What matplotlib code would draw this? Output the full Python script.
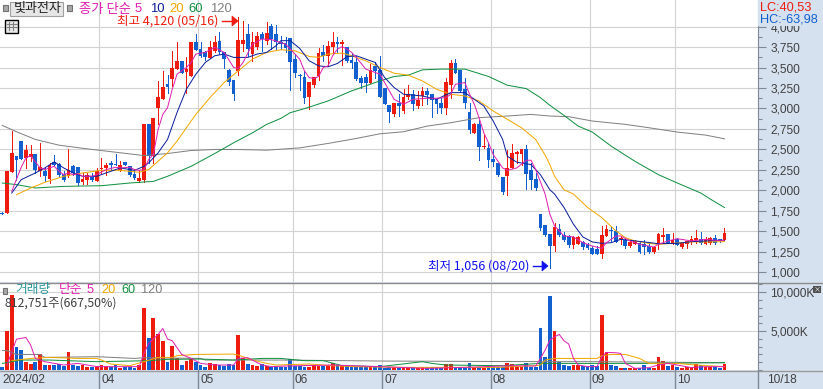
import matplotlib
matplotlib.use('Agg')
import matplotlib.pyplot as plt
from matplotlib.patches import Rectangle, Polygon
from matplotlib.ticker import MultipleLocator, FuncFormatter

plt.rcParams['font.family'] = ['Noto Sans CJK KR', 'DejaVu Sans']

# daily candles, 154 sessions
opens = [1725,1721,2221,2417,2609,2397,2409,2450,2241,2241,
         2143,2344,2327,2204,2172,2303,2286,2098,2131,2180,
         2119,2262,2274,2335,2327,2245,2348,2294,2200,2110,
         2131,2806,2417,3010,3112,3297,3358,3481,3583,3440,
         3399,3808,3726,3685,3616,3697,3828,3685,3472,3346,
         3460,3787,3910,3665,3746,3910,3828,4012,3910,3816,
         3795,3861,3603,3407,3387,3141,3284,3391,3685,3644,
         3746,3816,3787,3746,3591,3562,3370,3387,3317,3521,
         3468,3256,3039,2928,3072,2969,3141,3174,3031,3153,
         3215,3174,3112,3063,3010,3284,3554,3472,3243,2961,
         2704,2806,2527,2519,2388,2335,2164,2172,2274,2450,
         2450,2511,2254,2139,1709,1578,1464,1321,1533,1451,
         1443,1333,1349,1374,1349,1300,1288,1226,1443,1520,
         1505,1411,1390,1320,1349,1353,1341,1320,1247,1341,
         1435,1472,1353,1410,1308,1349,1374,1398,1410,1341,
         1361,1423,1402,1394]
closes = [1715,2233,2462,2376,2384,2491,2450,2254,2286,2172,
          2311,2307,2192,2131,2245,2213,2090,2143,2184,2123,
          2233,2274,2315,2307,2307,2307,2307,2192,2151,2151,
          2806,2417,2888,3145,3268,3268,3489,3583,3432,3480,
          3808,3718,3636,3624,3746,3808,3685,3603,3329,3174,
          3836,3836,3726,3808,3890,3849,3918,3849,3808,3787,
          3734,3571,3431,3391,3125,3325,3387,3677,3636,3767,
          3808,3787,3816,3583,3554,3358,3309,3309,3468,3460,
          3141,3051,2957,3072,3031,3145,3182,3051,3100,3215,
          3162,3100,3051,3002,3325,3554,3431,3215,3072,2736,
          2806,2527,2548,2376,2344,2184,1975,2274,2458,2466,
          2511,2205,2131,2029,1545,1456,1321,1554,1456,1390,
          1329,1435,1435,1308,1300,1226,1218,1451,1525,1500,
          1374,1423,1320,1374,1382,1251,1308,1247,1308,1464,
          1456,1353,1394,1333,1353,1382,1410,1423,1353,1410,
          1423,1361,1382,1484]
highs = [1730,2233,2724,2417,2609,2552,2560,2450,2581,2274,
         2335,2438,2335,2233,2511,2315,2286,2213,2213,2213,
         2274,2397,2335,2364,2450,2356,2348,2294,2254,2254,
         2806,2806,2888,3337,3460,3407,3706,3808,3583,3624,
         3808,3910,3816,3706,3828,3890,3931,3685,3480,3346,
         4120,4070,4033,3931,3931,3931,4053,4033,4020,3890,
         3877,3861,3665,3419,3460,3325,3387,3734,3775,3828,
         3931,3877,3840,3755,3665,3644,3391,3419,3542,3562,
         3644,3256,3039,3072,3174,3243,3284,3227,3215,3268,
         3256,3174,3133,3133,3378,3591,3603,3472,3378,3063,
         2818,2859,2683,2581,2511,2335,2164,2499,2568,2478,
         2511,2552,2335,2213,1709,1578,1464,1607,1586,1492,
         1456,1443,1443,1382,1361,1320,1320,1566,1574,1554,
         1566,1443,1402,1390,1390,1370,1390,1361,1320,1484,
         1546,1472,1484,1423,1361,1382,1443,1513,1492,1431,
         1431,1451,1402,1537]
lows = [1710,1721,2221,2131,2384,2274,2356,2213,2172,2110,
        2090,2307,2172,2110,2164,2192,2061,2082,2082,2110,
        2110,2213,2192,2254,2307,2233,2307,2180,2143,2102,
        2098,2335,2335,2806,3112,3194,3276,3481,3432,3194,
        3391,3718,3624,3591,3616,3685,3665,3493,3288,3104,
        3407,3706,3644,3575,3726,3706,3787,3726,3718,3726,
        3685,3227,3386,3227,3072,2990,3268,3350,3583,3521,
        3677,3685,3534,3571,3493,3346,3256,3203,3317,3378,
        3141,3051,2834,2908,2908,2941,3112,2982,3010,3043,
        3051,2896,2949,2949,2928,3133,3431,3203,3010,2704,
        2695,2376,2519,2282,2294,2172,1955,1947,2274,2335,
        2315,2020,2016,2008,1513,1443,1056,1259,1443,1382,
        1312,1292,1341,1288,1280,1218,1218,1169,1443,1386,
        1374,1349,1300,1308,1341,1239,1226,1239,1239,1280,
        1353,1353,1341,1329,1300,1292,1341,1361,1341,1341,
        1349,1349,1374,1394]
volumes = [430,5000,9610,2950,2560,1070,770,1070,2000,640,
           640,640,730,555,2300,640,510,640,430,430,
           510,640,510,430,640,300,340,340,300,640,
           7940,4100,6660,4610,3710,1070,3070,1580,640,1200,
           1370,1070,640,430,850,770,640,555,770,640,
           4480,1490,770,640,510,730,555,430,430,430,
           430,1410,510,510,430,430,640,510,510,555,
           850,640,510,510,340,400,340,340,380,340,
           640,300,340,340,300,340,300,340,300,340,
           340,340,340,300,770,770,430,430,430,900,
           430,430,300,380,340,340,340,850,730,430,
           430,850,430,340,5340,1620,9480,5000,1070,640,
           555,640,640,510,510,640,555,7050,2350,640,
           510,300,300,210,210,300,640,300,300,1620,
           1200,510,640,430,300,340,340,770,640,430,
           430,430,300,812]

# moving averages at the listed sessions
ma5_idx = [2,4,5,6,7,8,9,10,11,12,13,14,15,16,17,19,20,22,24,25,27,28,29,30,31,32,33,34,35,36,37,39,40,41,43,45,47,49,50,51,53,55,57,
           60,62,63,64,65,66,67,68,69,70,71,72,73,74,75,77,79,80,82,83,85,87,90,92,94,95,96,98,99,100,101,102,103,104,106,107,109,111,112,113,
           115,116,117,119,121,123,125,127,128,130,131,133,135,138,139,141,143,146,149,151,153]
ma5 = [1990,2282,2397,2425,2348,2274,2254,2274,2294,2233,2192,2213,2192,2204,2172,2172,2192,2254,2282,2274,2282,2254,2245,2254,2376,2438,2744,2928,3010,3235,3419,3501,3562,3665,3685,3746,3685,3501,3489,3562,3787,3849,3841,
       3787,3665,3603,3460,3378,3366,3391,3501,3521,3644,3726,3755,3726,3685,3624,3481,3440,3419,3215,3112,3051,3112,3125,3125,3133,3174,3296,3317,3174,3051,2888,2704,2581,2438,2274,2245,2274,2368,2368,2254,
       1955,1709,1566,1443,1431,1361,1320,1292,1361,1443,1443,1382,1341,1308,1341,1382,1410,1382,1402,1390,1390]
ma10_idx = [2,4,7,9,11,13,15,17,20,22,25,28,30,31,33,35,37,39,41,43,45,47,49,52,54,56,58,59,61,63,65,67,69,71,73,75,77,79,81,83,85,89,92,95,98,100,102,104,106,107,109,112,114,116,117,119,121,123,125,127,129,131,133,136,139,143,146,149,152,153]
ma10 = [1967,2131,2213,2274,2348,2274,2213,2172,2172,2213,2274,2245,2294,2335,2458,2622,2949,3235,3419,3562,3644,3665,3624,3624,3665,3685,3767,3828,3828,3734,3583,3521,3509,3550,3632,3644,3603,3562,3378,3256,3174,3153,3112,3194,3194,3112,3031,2847,2622,2417,2344,2315,2192,2008,1955,1791,1586,1431,1370,1353,1361,1402,1390,1370,1349,1353,1374,1382,1390,1390]
ma20_idx = [3,6,9,13,17,21,25,29,31,33,35,37,39,41,44,47,50,53,56,59,62,65,67,69,72,74,77,80,83,86,89,92,95,98,101,104,107,110,113,115,116,117,119,121,124,127,130,132,134,137,139,143,146,149,153]
ma20 = [1947,2029,2098,2172,2213,2245,2245,2221,2254,2356,2458,2601,2765,2928,3133,3317,3460,3603,3685,3718,3705,3636,3624,3665,3677,3644,3583,3501,3431,3407,3337,3235,3174,3153,3092,2969,2867,2765,2622,2430,2315,2172,2008,1955,1791,1668,1505,1423,1382,1353,1341,1357,1370,1370,1374]
ma60_idx = [0,3,7,13,21,27,32,35,40,45,49,53,56,59,61,64,69,74,79,83,86,89,93,98,103,107,111,114,116,119,122,125,129,134,139,143,148,150,153]
ma60 = [2090,2070,2029,2049,2057,2090,2110,2172,2294,2450,2581,2703,2806,2879,2949,2998,3092,3215,3317,3391,3407,3472,3481,3481,3391,3284,3243,3133,3039,2916,2785,2712,2540,2356,2192,2090,1967,1893,1791]
ma120_idx = [0,3,7,12,18,24,30,35,40,45,50,56,63,69,75,80,85,90,95,101,107,112,116,120,125,132,137,143,149,153]
ma120 = [2793,2716,2622,2552,2507,2466,2425,2450,2487,2499,2499,2491,2519,2573,2634,2691,2716,2785,2826,2888,2908,2928,2908,2900,2847,2806,2765,2712,2675,2630]

vma5_idx = [1,2,3,5,6,7,9,13,16,20,24,29,30,31,33,34,35,36,38,40,42,45,49,50,52,55,57,60,70,80,90,100,108,113,114,115,116,117,118,119,120,121,122,124,126,127,128,130,131,132,134,137,139,141,143,146,149,153]
vma5 = [640,2350,3970,4180,3200,1490,1070,640,850,430,430,430,2130,3420,4570,5340,3970,3760,2000,1490,850,640,640,1490,1580,640,430,510,640,430,210,380,555,510,1490,2560,3840,4270,4570,3760,3330,1490,640,430,430,1710,2260,2220,2130,850,210,300,640,850,640,300,430,430]
vma20_idx = [2,6,10,16,20,21,23,27,30,33,36,37,41,49,50,53,56,58,65,70,75,85,95,105,113,114,115,117,126,127,129,132,135,137,143,147,153]
vma20 = [1200,1490,1620,1490,1490,1280,770,555,1070,1620,1620,1840,2000,2050,1920,1280,850,640,770,555,430,340,340,340,555,640,1280,1490,1490,1840,2000,2000,1490,850,850,640,430]
vma60_idx = [0,4,10,20,27,31,35,42,49,55,59,64,68,72,80,89,91,94,106,114,116,122,127,136,153]
vma60 = [850,1280,1280,1070,1150,1200,1370,1410,1280,1490,1490,1200,1200,555,430,1070,850,640,555,850,850,850,850,850,940]
vma120_idx = [0,1,3,8,9,20,28,30,42,43,59,81,116,126,153]
vma120 = [2520,2480,2000,2000,1620,1710,1490,1580,1490,1280,1280,1150,1070,1070,940]

# first session of each month on the index axis, and its label
month_first = [21, 42, 62, 81, 104, 125, 143]
month_labels = ['04', '05', '06', '07', '08', '09', '10']

W, H = 823, 389
RED = '#ee1c0e'
BLUE = '#1260d0'
MAG = '#e020b0'
NAVY = '#0c1f9c'
ORG = '#f0a800'
GRN = '#109040'
GRY = '#808080'
PANEL = '#d6e1ef'
GRID = '#d2d2d2'
TXT = '#404040'

def px_axes(x0, y0, x1, y1):
    return fig.add_axes([x0 / W, 1 - y1 / H, (x1 - x0) / W, (y1 - y0) / H])

def ma_line(ax, idx, vals, color):
    ax.plot(idx, vals, color=color, lw=0.72, antialiased=True, zorder=4)

fig = plt.figure(figsize=(W / 100, H / 100), dpi=100, facecolor=PANEL)

ax = px_axes(0, 0, 758, 282)
axv = px_axes(0, 283, 758, 370)

xs = list(range(len(opens)))
up = [c >= o for o, c in zip(opens, closes)]
cols = [RED if u else BLUE for u in up]

# candles
ax.vlines(xs, lows, highs, colors=cols, lw=0.72, antialiased=False, zorder=3)
ax.bar(xs, [max(abs(c - o), 12) for o, c in zip(opens, closes)],
       bottom=[min(o, c) for o, c in zip(opens, closes)],
       width=0.8, color=cols, linewidth=0, zorder=3)
ma_line(ax, ma120_idx, ma120, GRY)
ma_line(ax, ma60_idx, ma60, GRN)
ma_line(ax, ma20_idx, ma20, ORG)
ma_line(ax, ma10_idx, ma10, NAVY)
ma_line(ax, ma5_idx, ma5, MAG)

# volume
axv.bar(xs, volumes, width=0.8, color=cols, linewidth=0, zorder=3)
ma_line(axv, vma120_idx, vma120, GRY)
ma_line(axv, vma60_idx, vma60, GRN)
ma_line(axv, vma20_idx, vma20, ORG)
ma_line(axv, vma5_idx, vma5, MAG)

for a in (ax, axv):
    a.set_xlim(-0.494, 160.1)
    a.set_xticks([])
    a.set_facecolor('white')
    for m in month_first:
        a.axvline(m - 0.5, color=GRID, lw=0.8, zorder=1)
    for s in ('top', 'left', 'bottom'):
        a.spines[s].set_visible(False)
    a.spines['right'].set_color('#7f8a96')
    a.yaxis.tick_right()
    a.tick_params(axis='y', which='major', length=6, width=0.8, color='#7f8a96',
                  labelcolor=TXT, pad=3)
    a.tick_params(axis='y', which='minor', length=3, width=0.8, color='#7f8a96')

ax.set_ylim(881, 4325)
ax.set_yticks([v for v in range(1000, 4001, 250)])
ax.yaxis.set_minor_locator(MultipleLocator(125))
ax.yaxis.set_major_formatter(FuncFormatter(lambda v, p: f'{int(v):,}'))
ax.tick_params(axis='y', labelsize=8.6)
ax.grid(axis='y', color=GRID, lw=0.8, zorder=1)

axv.set_ylim(0, 11190)
axv.set_yticks([5000, 10000])
axv.set_yticklabels(['5,000K', '10,000K'])
axv.yaxis.set_minor_locator(MultipleLocator(1000))
axv.tick_params(axis='y', labelsize=8.6)
axv.grid(axis='y', color=GRID, lw=0.8, zorder=1)
for a in (ax, axv):
    for lab in a.get_yticklabels():
        lab.set_family('Liberation Sans')

# overlay in pixels for titles and the frame around the panels
ov = fig.add_axes([0, 0, 1, 1], zorder=5)
ov.set_xlim(0, W)
ov.set_ylim(H, 0)
ov.axis('off')
ov.patch.set_alpha(0)

ov.plot([0, 823], [282.5, 282.5], color='#8c8c8c', lw=1.0)
ov.plot([0, 823], [370.5, 370.5], color='#9a9a9a', lw=1.0)
ov.plot([758, 758], [370, 389], color='#7f8a96', lw=1.0)
for m, lab in zip(month_first, month_labels):
    x = (m - 0.5 + 0.494) * 758 / 160.594
    ov.plot([x, x], [370, 389], color='#7f8a96', lw=1.0)
    ov.text(x + 2, 380, lab, color=TXT, fontsize=8.6, va='center', family='Liberation Sans')
ov.text(2, 380, '2024/02', color=TXT, fontsize=8.6, va='center', family='Liberation Sans')
ov.text(767, 380, '10/18', color=TXT, fontsize=8.6, va='center', family='Liberation Sans')

# top legend
ov.add_patch(Rectangle((3, 5), 5, 6, fc='#a8a8a8', ec='#707070', lw=0.8))
ov.add_patch(Rectangle((10.5, 1.5), 53, 14, fc='#e6e6e6', ec='#a0a0a0', lw=0.8))
ov.text(38, 8.5, '빛과전자', color='#222222', fontsize=9.4, ha='center', va='center')
ov.add_patch(Rectangle((67, 5), 5, 6, fc='#a8a8a8', ec='#707070', lw=0.8))
ov.text(79, 8.5, '종가 단순', color=MAG, fontsize=9.6, va='center')
for x, s, c in [(135, '5', MAG), (150, '10', NAVY), (169, '20', ORG),
                (188, '60', GRN), (210, '120', GRY)]:
    ov.text(x, 8.5, s, color=c, fontsize=9.4, va='center', family='Liberation Sans')

# table icon
ov.add_patch(Rectangle((5.5, 19.5), 13, 13, fc='#e8e8e8', ec='black', lw=1.0))
for x in (9.5, 13.5):
    ov.plot([x, x], [22, 30], color='#808080', lw=0.8)
for y in (23.5, 27):
    ov.plot([7, 17], [y, y], color='#808080', lw=0.8)

# high and low notes
ov.text(117, 21, '최고 4,120 (05/16)', color=RED, fontsize=9, va='center')
ov.plot([222, 232], [21, 21], color=RED, lw=1.0)
ov.add_patch(Polygon([(232, 16), (232, 26), (238, 21)], fc=RED, ec=RED, lw=0.5))
ov.text(428, 266, '최저 1,056 (08/20)', color='#1010f0', fontsize=9, va='center')
ov.plot([533, 543], [266, 266], color='#1010f0', lw=1.0)
ov.add_patch(Polygon([(542, 261), (542, 271), (548, 266)], fc='#1010f0', ec='#1010f0', lw=0.5))

# LC / HC box covers the top tick label, which stays clipped as in the source
ov.add_patch(Rectangle((758.5, 0), 64.5, 25.5, fc=PANEL, ec='none'))
ov.text(760, 7, 'LC:40,53', color=RED, fontsize=9.2, va='center', family='Liberation Sans')
ov.text(760, 19, 'HC:-63,98', color=BLUE, fontsize=9.2, va='center', family='Liberation Sans')

# volume legend
ov.add_patch(Rectangle((3, 288), 4.5, 6, fc='#a8a8a8', ec='#707070', lw=0.8))
ov.text(15, 290, '거래량', color='#2f9a9a', fontsize=9.2, va='center')
ov.text(59, 290, '단순', color=MAG, fontsize=9.2, va='center')
for x, s, c in [(87, '5', MAG), (101, '20', ORG), (121, '60', GRN), (141, '120', GRY)]:
    ov.text(x, 290, s, color=c, fontsize=9.2, va='center', family='Liberation Sans')
ov.text(5, 303, '812,751주(667,50%)', color=TXT, fontsize=8.8, va='center')

# little close button
ov.add_patch(Rectangle((813, 286), 8, 6.5, fc='#505050', ec='none'))
ov.text(817, 289, '×', color='white', fontsize=5, ha='center', va='center')

fig.savefig('out.png', dpi=100, facecolor=fig.get_facecolor())
